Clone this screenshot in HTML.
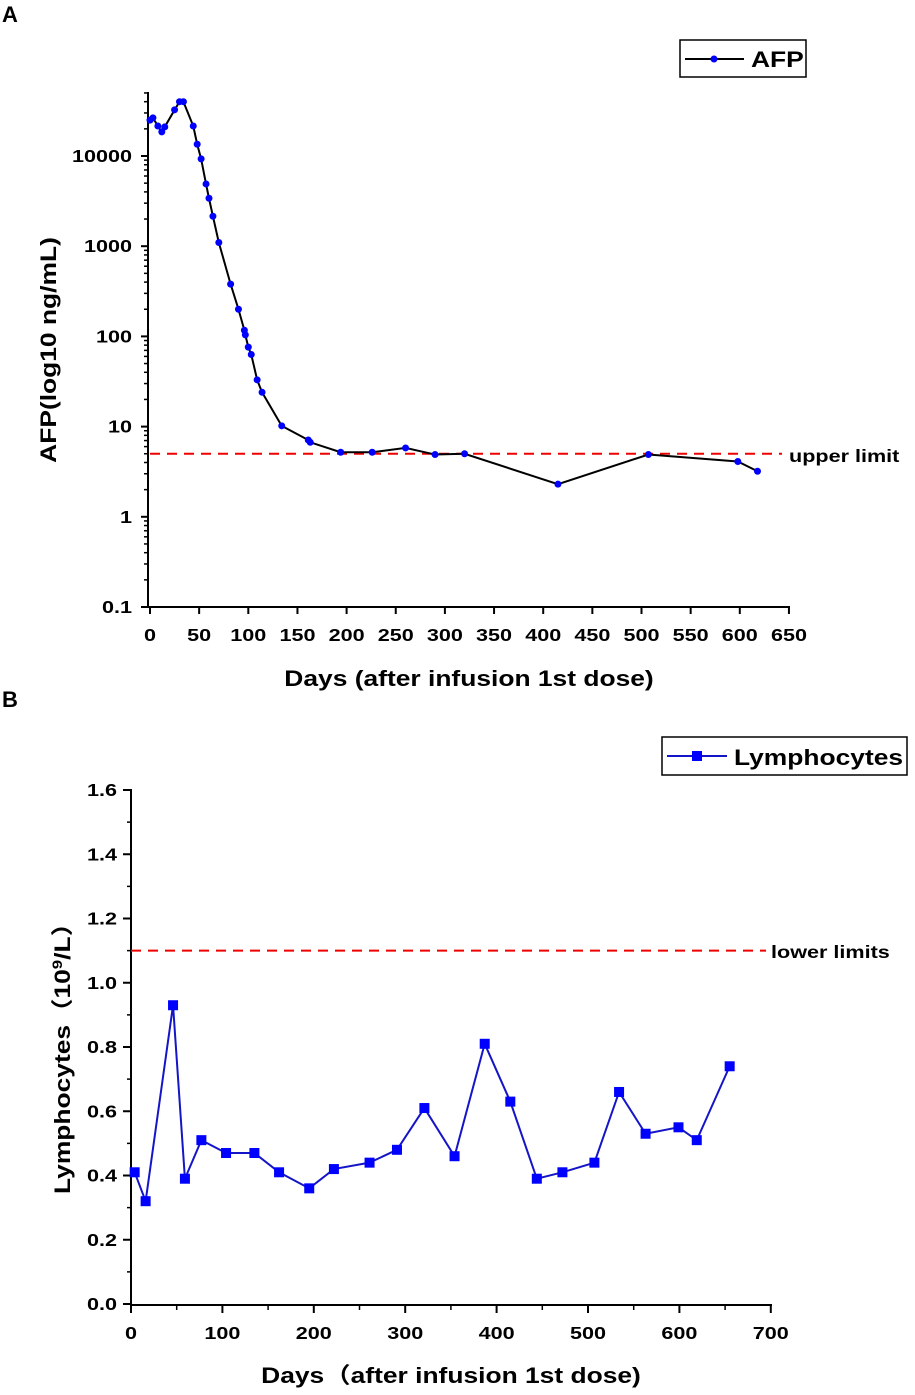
<!DOCTYPE html>
<html><head><meta charset="utf-8"><style>
body{margin:0;background:#fff;width:915px;height:1395px;overflow:hidden}
svg{display:block}
text{font-family:"Liberation Sans","Noto Sans CJK SC",sans-serif;font-weight:bold;fill:#000}
</style></head><body>
<svg id="c" width="915" height="1395"></svg>
<script>
const afpDays=[0,3,8,12,15,25,30,34,44,48,52,57,60,64,70,82,90,96,97,100,103,109,114,134,161,163,194,226,260,290,320,415,507,598,618];
const afpVals=[25000,26500,21500,18500,21000,32500,40000,40000,21500,13500,9300,4900,3400,2150,1100,380,200,117,104,76,63,33,24,10.2,7.1,6.7,5.2,5.2,5.8,4.9,5.0,2.3,4.9,4.1,3.2];
const afpYTicks=[0.1,1,10,100,1000,10000];
const afpXTicks=[0,50,100,150,200,250,300,350,400,450,500,550,600,650];
const upperLimit=5;
const lymDays=[4,16,46,59,77,104,135,162,195,222,261,291,321,354,387,415,444,472,507,534,563,599,619,655];
const lymVals=[0.41,0.32,0.93,0.39,0.51,0.47,0.47,0.41,0.36,0.42,0.44,0.48,0.61,0.46,0.81,0.63,0.39,0.41,0.44,0.66,0.53,0.55,0.51,0.74];
const lymYTicks=[0,0.2,0.4,0.6,0.8,1.0,1.2,1.4,1.6];
const lymXTicks=[0,100,200,300,400,500,600,700];
const lowerLimit=1.1;

const svg=document.getElementById('c');
const NS='http://www.w3.org/2000/svg';
const SX=1.2;
function el(tag,attrs,parent){const e=document.createElementNS(NS,tag);for(const k in attrs)e.setAttribute(k,attrs[k]);(parent||svg).appendChild(e);return e;}
function txt(s,x,y,size,anchor,parent,rot){const t=el('text',{x:0,y:0,'font-size':size,'text-anchor':anchor||'middle',transform:'translate('+x+','+y+')'+(rot?' rotate(-90)':'')+' scale('+SX+',1)'},parent);t.textContent=s;return t;}

// ---------- Chart A ----------
const gA=el('g',{});


const ax=d=>150+d*0.983;
const ay=v=>156-(Math.log10(v)-4)*90.2;
el('text',{x:10,y:22,'font-size':22,'text-anchor':'middle'},gA).textContent='A';
el('line',{x1:148,y1:92,x2:148,y2:608,stroke:'#000','stroke-width':2},gA);
el('line',{x1:147,y1:607,x2:790,y2:607,stroke:'#000','stroke-width':2},gA);
afpYTicks.forEach(v=>{const y=ay(v);el('line',{x1:141,y1:y,x2:148,y2:y,stroke:'#000','stroke-width':2},gA);
 const t=txt(String(v),132,y+6,18,'end',gA);
 if(v<10000)for(let m=2;m<=9;m++){const yy=ay(v*m);el('line',{x1:144,y1:yy,x2:148,y2:yy,stroke:'#000','stroke-width':1.5},gA);}});
for(let m=2;m<=5;m++){const yy=ay(10000*m);if(yy>92)el('line',{x1:144,y1:yy,x2:148,y2:yy,stroke:'#000','stroke-width':1.5},gA);}
afpXTicks.forEach(d=>{const x=ax(d);el('line',{x1:x,y1:607,x2:x,y2:614,stroke:'#000','stroke-width':2},gA);
 const t=txt(String(d),x,641,18,'middle',gA);});
txt('Days (after infusion 1st dose)',469,686,22,'middle',gA);
txt('AFP(log10 ng/mL)',56,350,22,'middle',gA,true);
const ul=el('line',{x1:150,y1:ay(upperLimit),x2:782,y2:ay(upperLimit),stroke:'#e00','stroke-width':2,'stroke-dasharray':'10,7'},gA);

txt('upper limit',789,462,18,'start',gA);
el('polyline',{points:afpDays.map((d,i)=>ax(d)+','+ay(afpVals[i])).join(' '),fill:'none',stroke:'#000','stroke-width':2},gA);
afpDays.forEach((d,i)=>{const c=el('circle',{cx:ax(d),cy:ay(afpVals[i]),r:3.5,fill:'#00f'},gA);
 
 });
const lgA=el('g',{},gA);


el('rect',{x:680,y:40,width:126,height:37,fill:'#fff',stroke:'#000','stroke-width':1.5},lgA);
el('line',{x1:685,y1:59,x2:744,y2:59,stroke:'#000','stroke-width':2},lgA);
el('circle',{cx:714,cy:59,r:3.5,fill:'#00f'},lgA);
txt('AFP',751,67,22,'start',lgA);

// ---------- Chart B ----------
const gB=el('g',{});


const bx=d=>131+d*0.914;
const by=v=>1304-v*321.25;
el('text',{x:10,y:707,'font-size':22,'text-anchor':'middle'},gB).textContent='B';
el('line',{x1:131,y1:789,x2:131,y2:1305,stroke:'#000','stroke-width':2},gB);
el('line',{x1:130,y1:1305,x2:772,y2:1305,stroke:'#000','stroke-width':2},gB);
lymYTicks.forEach(v=>{const y=by(v);el('line',{x1:123,y1:y,x2:131,y2:y,stroke:'#000','stroke-width':2},gB);
 if(v<1.6){const ym=by(v+0.1);el('line',{x1:127,y1:ym,x2:131,y2:ym,stroke:'#000','stroke-width':1.5},gB);}
 const t=txt(v.toFixed(1),117,y+6,18,'end',gB);});
lymXTicks.forEach(d=>{const x=bx(d);el('line',{x1:x,y1:1305,x2:x,y2:1313,stroke:'#000','stroke-width':2},gB);
 if(d<700){const xm=bx(d+50);el('line',{x1:xm,y1:1305,x2:xm,y2:1310,stroke:'#000','stroke-width':1.5},gB);}
 const t=txt(String(d),x,1339,18,'middle',gB);});
txt('Days（after infusion 1st dose)',451,1383,22,'middle',gB);
const ytB=el('text',{x:0,y:0,'font-size':22,'text-anchor':'middle',transform:'translate(70,1052) rotate(-90) scale('+SX+',1)'},gB);

ytB.innerHTML='Lymphocytes（10<tspan font-size="14" dy="-8">9</tspan><tspan dy="8">/L）</tspan>';
const ll=el('line',{x1:131,y1:by(lowerLimit),x2:766,y2:by(lowerLimit),stroke:'#e00','stroke-width':2,'stroke-dasharray':'10,7'},gB);

txt('lower limits',771,958,18,'start',gB);
el('polyline',{points:lymDays.map((d,i)=>bx(d)+','+by(lymVals[i])).join(' '),fill:'none',stroke:'#1515c8','stroke-width':2},gB);
lymDays.forEach((d,i)=>{const r=el('rect',{x:bx(d)-5,y:by(lymVals[i])-5,width:10,height:10,fill:'#00f'},gB);
 
 });
const lgB=el('g',{},gB);


el('rect',{x:662,y:737,width:245,height:38,fill:'#fff',stroke:'#000','stroke-width':1.5},lgB);
el('line',{x1:667,y1:756,x2:727,y2:756,stroke:'#1515c8','stroke-width':2},lgB);
el('rect',{x:692,y:751,width:10,height:10,fill:'#00f'},lgB);
txt('Lymphocytes',734,765,22,'start',lgB);
</script>
</body></html>
